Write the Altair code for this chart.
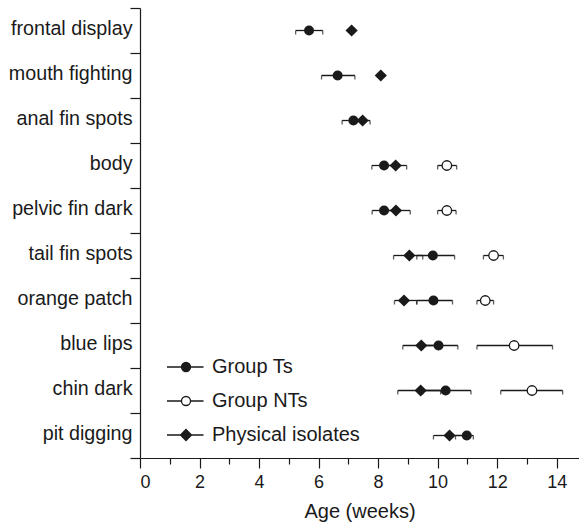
import altair as alt
import pandas as pd

behaviors = ["frontal display", "mouth fighting", "anal fin spots", "body",
             "pelvic fin dark", "tail fin spots", "orange patch", "blue lips",
             "chin dark", "pit digging"]

ts_mean = [5.68, 6.64, 7.17, 8.20, 8.20, 9.84, 9.86, 10.03, 10.27, 10.98]
ts_lo = [5.23, 6.10, 6.79, 7.79, 7.80, 9.30, 9.30, 9.50, 9.50, 10.60]
ts_hi = [6.14, 7.22, 7.50, 8.60, 8.60, 10.57, 10.50, 10.68, 11.12, 11.20]

iso_mean = [7.11, 8.09, 7.48, 8.59, 8.60, 9.05, 8.87, 9.45, 9.43, 10.40]
iso_lo = [7.11, 8.09, 7.20, 8.20, 8.20, 8.52, 8.55, 8.83, 8.66, 9.86]
iso_hi = [7.11, 8.09, 7.73, 8.96, 9.08, 9.50, 9.30, 10.00, 10.10, 10.90]

nts_behaviors = ["body", "pelvic fin dark", "tail fin spots", "orange patch",
                 "blue lips", "chin dark"]
nts_mean = [10.31, 10.31, 11.88, 11.60, 12.57, 13.17]
nts_lo = [10.00, 10.00, 11.54, 11.32, 11.32, 12.12]
nts_hi = [10.64, 10.62, 12.21, 11.88, 13.86, 14.20]

major_ticks = [0, 2, 4, 6, 8, 10, 12, 14]
minor_ticks = [1, 3, 5, 7, 9, 11, 13]
legend_labels = ["Group Ts", "Group NTs", "Physical isolates"]

rows = []
for b, m, lo, hi in zip(behaviors, ts_mean, ts_lo, ts_hi):
    rows.append(dict(behavior=b, group="Group Ts", mean=m, lo=lo, hi=hi))
for b, m, lo, hi in zip(nts_behaviors, nts_mean, nts_lo, nts_hi):
    rows.append(dict(behavior=b, group="Group NTs", mean=m, lo=lo, hi=hi))
for b, m, lo, hi in zip(behaviors, iso_mean, iso_lo, iso_hi):
    rows.append(dict(behavior=b, group="Physical isolates", mean=m, lo=lo, hi=hi))
df = pd.DataFrame(rows)
df_err = df[df["hi"] > df["lo"]]
caps = pd.concat([
    df_err[["behavior", "group"]].assign(v=df_err["lo"]),
    df_err[["behavior", "group"]].assign(v=df_err["hi"]),
])

INK = "#1a1a1a"
xscale = alt.Scale(domain=[0, 14.75], nice=False, zero=True)
x_axis = alt.Axis(values=major_ticks, tickSize=10, labelFontSize=18, labelPadding=5,
                  title="Age (weeks)", titleFontSize=20, titleFontWeight="normal",
                  titlePadding=10, grid=False, domainColor=INK, tickColor=INK,
                  labelColor=INK, titleColor=INK, tickWidth=1.2, domainWidth=1.2,
                  orient="bottom")
yenc = alt.Y("behavior:N", sort=behaviors,
             scale=alt.Scale(domain=behaviors, paddingInner=0, paddingOuter=0),
             axis=alt.Axis(title=None, tickBand="extent", tickSize=10,
                           labelFontSize=19.7, labelPadding=-2, domainColor=INK,
                           tickColor=INK, labelColor=INK, tickWidth=1.2,
                           domainWidth=1.2, grid=False, labelBaseline="middle",
                           labelOffset=-2))

base = alt.Chart(df)

err = alt.Chart(df_err).mark_rule(color=INK, strokeWidth=1.3).encode(
    x=alt.X("lo:Q", scale=xscale, axis=x_axis), x2="hi:Q", y=yenc)

cap = alt.Chart(caps).mark_tick(color=INK, thickness=1.3, size=4, yOffset=2).encode(
    x=alt.X("v:Q", scale=xscale), y=yenc)

ts = base.transform_filter(alt.datum.group == "Group Ts").mark_point(
    shape="circle", filled=True, size=100, color=INK, opacity=1).encode(
    x=alt.X("mean:Q", scale=xscale), y=yenc)

nts = base.transform_filter(alt.datum.group == "Group NTs").mark_point(
    shape="circle", size=90, fill="white", stroke=INK, strokeWidth=1.3,
    filled=False, opacity=1, fillOpacity=1).encode(
    x=alt.X("mean:Q", scale=xscale), y=yenc)

iso = base.transform_filter(alt.datum.group == "Physical isolates").mark_point(
    shape="diamond", filled=True, size=150, color=INK, opacity=1).encode(
    x=alt.X("mean:Q", scale=xscale), y=yenc)

# custom legend symbols in Vega's [-1, 1] unit space (size 100 -> 5 px per unit)
circ_path = ("M-3.8,0H-0.9M0.9,0H3.5"
             "M0.9,0A0.9,0.9 0 1,1 -0.9,0A0.9,0.9 0 1,1 0.9,0Z")
diam_path = "M-3.8,0H-1.1M1.1,0H3.5M0,-1.1L1.1,0L0,1.1L-1.1,0Z"

leg = alt.Legend(title=None, orient="none", legendX=36, legendY=349, padding=0,
                 labelFontSize=20, labelColor=INK, labelOffset=16,
                 rowPadding=14, symbolSize=100, symbolStrokeWidth=1.3)

leg_df = pd.DataFrame({"series": legend_labels})
legend = alt.Chart(leg_df).transform_filter("false").mark_point(
    size=100, strokeWidth=1.3, opacity=1, fillOpacity=1).encode(
    shape=alt.Shape("series:N",
                    scale=alt.Scale(domain=legend_labels,
                                    range=[circ_path, circ_path, diam_path]),
                    legend=leg),
    fill=alt.Fill("series:N",
                  scale=alt.Scale(domain=legend_labels,
                                  range=[INK, "white", INK]),
                  legend=leg),
    stroke=alt.Stroke("series:N",
                      scale=alt.Scale(domain=legend_labels,
                                      range=[INK, INK, INK]),
                      legend=leg),
)

main = alt.layer(err, cap, ts, nts, iso, legend)

minor_df = pd.DataFrame({"t": minor_ticks})
minor = alt.Chart(minor_df).mark_point(opacity=0).encode(
    x=alt.X("t:Q", scale=xscale,
            axis=alt.Axis(values=minor_ticks, tickSize=6, labels=False,
                          domain=False, title=None, grid=False, tickColor=INK,
                          tickWidth=1.2, orient="bottom")))

chart = alt.layer(main, minor).resolve_axis(x="independent").properties(
    width=439, height=450,
    padding={"left": 140, "top": 8, "right": 0, "bottom": 65},
    autosize="none",
).configure(font="Liberation Sans").configure_view(stroke=None)

chart.save("out.html", embed_options={"renderer": "svg", "actions": False})
